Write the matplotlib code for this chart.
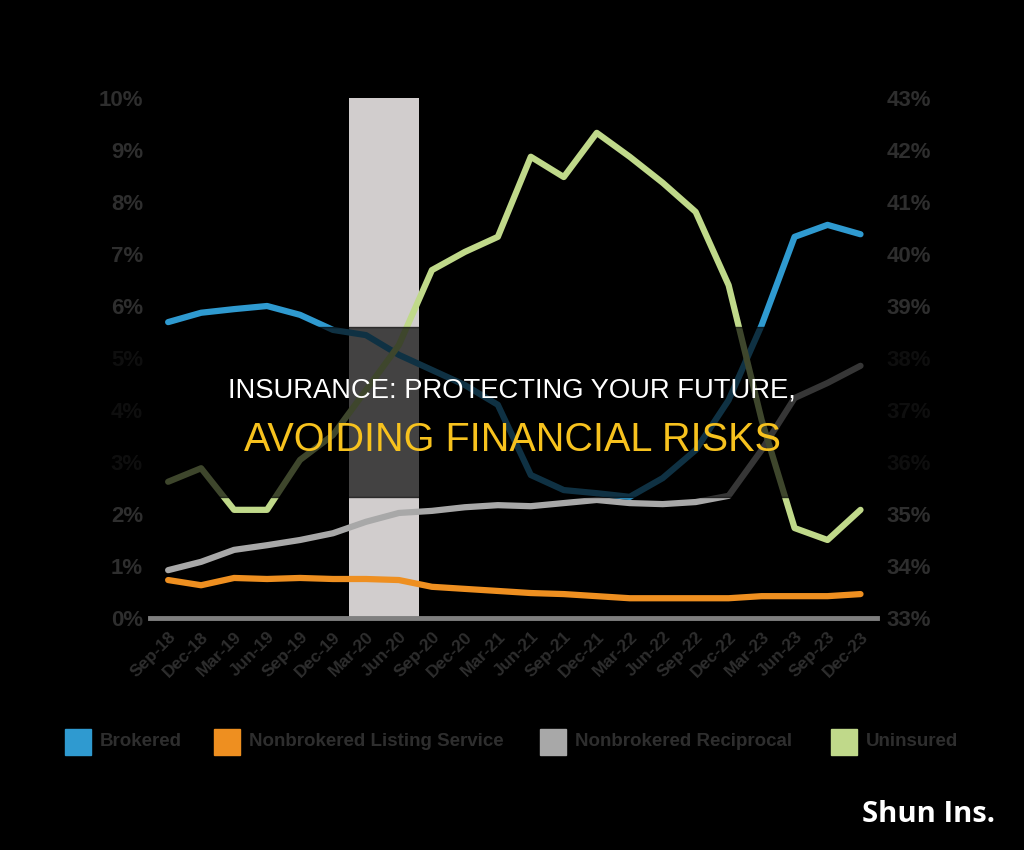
import numpy as np
import matplotlib
matplotlib.use("Agg")
import matplotlib.pyplot as plt
from matplotlib.patches import Rectangle

# ------------ Data ---------------
quarters = ["Sep-18", "Dec-18", "Mar-19", "Jun-19", "Sep-19", "Dec-19",
            "Mar-20", "Jun-20", "Sep-20", "Dec-20", "Mar-21", "Jun-21",
            "Sep-21", "Dec-21", "Mar-22", "Jun-22", "Sep-22", "Dec-22",
            "Mar-23", "Jun-23", "Sep-23", "Dec-23"]

brokered = [5.69, 5.87, 5.94, 6.00, 5.83, 5.54, 5.44, 5.06, 4.77, 4.48, 4.10,
            2.75, 2.46, 2.40, 2.33, 2.69, 3.23, 4.19, 5.63, 7.33, 7.56, 7.38]
listing_service = [0.73, 0.63, 0.77, 0.75, 0.77, 0.75, 0.75, 0.73, 0.60, 0.56, 0.52,
                   0.48, 0.46, 0.42, 0.38, 0.38, 0.38, 0.38, 0.42, 0.42, 0.42, 0.46]
reciprocal = [0.92, 1.08, 1.31, 1.40, 1.50, 1.63, 1.85, 2.02, 2.06, 2.13, 2.17,
              2.15, 2.21, 2.27, 2.21, 2.19, 2.23, 2.35, 3.23, 4.23, 4.52, 4.85]
uninsured = [35.62, 35.88, 35.08, 35.08, 36.04, 36.52, 37.38, 38.25, 39.69, 40.04, 40.33,
             41.87, 41.48, 42.33, 41.87, 41.37, 40.81, 39.40, 36.81, 34.73, 34.50, 35.08]

left_ticks = list(range(0, 11))
right_ticks = list(range(33, 44))

# shaded period (index range)
band_start, band_end = 5.5, 7.6

TXT = '#2e2e2e'
FONT = 'Liberation Sans'
C_BLUE = '#2f9ad0'
C_ORANGE = '#ee8f20'
C_GRAY = '#a8a8a8'
C_GREEN = '#c0d98a'

# ------------ Plot ---------------
fig = plt.figure(figsize=(10.24, 8.5), dpi=100, facecolor='black')
ax = fig.add_axes([150 / 1024, 232 / 850, 727 / 1024, 520 / 850])
ax.set_facecolor('black')
ax2 = ax.twinx()

x = np.arange(len(quarters))

ax.axvspan(band_start, band_end, color='#d1cdcd', zorder=0, lw=0)
ax.plot(x, listing_service, color=C_ORANGE, lw=4.5, zorder=3, solid_capstyle='round')
ax.plot(x, reciprocal, color=C_GRAY, lw=4.5, zorder=3, solid_capstyle='round')
ax.plot(x, brokered, color=C_BLUE, lw=4.5, zorder=3, solid_capstyle='round')
ax2.plot(x, uninsured, color=C_GREEN, lw=4.5, zorder=3, solid_capstyle='round')

ax.set_xlim(-0.55, 21.5)
ax.set_ylim(0, 10)
ax2.set_ylim(33, 43)

ax.set_yticks(left_ticks)
ax.set_yticklabels([f"{v}%" for v in left_ticks])
ax2.set_yticks(right_ticks)
ax2.set_yticklabels([f"{v}%" for v in right_ticks])
ax.set_xticks(x)
ax.set_xticklabels(quarters, rotation=45, ha='right', va='top', rotation_mode='anchor')

for a in (ax, ax2):
    for s in a.spines.values():
        s.set_visible(False)
    a.tick_params(length=0, colors=TXT, labelsize=16)
    for lab in a.get_yticklabels():
        lab.set_fontweight('bold')
        lab.set_family(FONT)
ax.tick_params(axis='x', labelsize=12.5, pad=8)
for lab in ax.get_xticklabels():
    lab.set_fontweight('bold')
    lab.set_family(FONT)
ax.tick_params(axis='y', pad=5)
ax2.tick_params(axis='y', pad=7)
ax.spines['bottom'].set_visible(True)
ax.spines['bottom'].set_color('#7f7f7f')
ax.spines['bottom'].set_linewidth(3.5)

# legend
leg_items = [(65, C_BLUE, "Brokered"), (214, C_ORANGE, "Nonbrokered Listing Service"),
             (540, C_GRAY, "Nonbrokered Reciprocal"), (831, C_GREEN, "Uninsured")]
for px, col, name in leg_items:
    fig.patches.append(Rectangle((px / 1024, (850 - 755) / 850), 26 / 1024, 26 / 850,
                                 transform=fig.transFigure, color=col))
    fig.text((px + 35) / 1024, (850 - 742) / 850, name, color=TXT, fontsize=13.5,
             fontweight='bold', family=FONT, va='center', ha='left')

# dark banner overlay
fig.patches.append(Rectangle((0, (850 - 497) / 850), 1, 170 / 850, transform=fig.transFigure,
                             color='black', alpha=0.68, zorder=10))
fig.text(0.5, (850 - 390) / 850, "INSURANCE: PROTECTING YOUR FUTURE,", color='white',
         fontsize=19.7, family=FONT, ha='center', va='center', zorder=11)
fig.text(0.5, (850 - 440) / 850, "AVOIDING FINANCIAL RISKS", color='#f7c21e',
         fontsize=28.5, family=FONT, ha='center', va='center', zorder=11)

fig.text(995 / 1024, (850 - 815) / 850, "Shun Ins.", color='white', fontsize=21,
         family='Open Sans', fontweight='bold', ha='right', va='center')

fig.savefig('out.png', dpi=100, facecolor='black')
